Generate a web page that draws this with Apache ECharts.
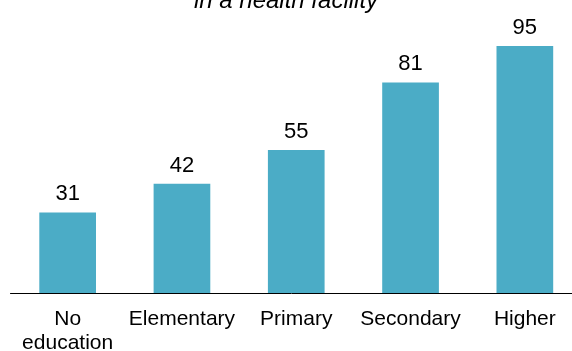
<!DOCTYPE html>
<html>
<head>
<meta charset="utf-8">
<script src="https://cdn.jsdelivr.net/npm/echarts@6/dist/echarts.min.js"></script>
<style>html,body{margin:0;padding:0;background:#fff}#c{width:572px;height:351px}</style>
</head>
<body>
<div id="c"></div>
<script>
var titleText = 'in a health facility';
var categories = ['No\neducation', 'Elementary', 'Primary', 'Secondary', 'Higher'];
var values = [31, 42, 55, 81, 95];

var chart = echarts.init(document.getElementById('c'), null, {renderer: 'canvas'});
chart.setOption({
  animation: false,
  title: {
    text: titleText,
    left: 'center',
    top: -16,
    textStyle: {fontFamily: 'Liberation Sans, Arial', fontStyle: 'italic', fontWeight: 'normal', fontSize: 24, color: '#000'}
  },
  grid: {left: 10.5, right: -10, top: 33, height: 260, containLabel: false, outerBoundsMode: 'none'},
  xAxis: {
    type: 'category',
    data: categories,
    axisLine: {lineStyle: {color: '#000', width: 1}},
    axisTick: {show: false},
    axisLabel: {color: '#000', fontFamily: 'Liberation Sans, Arial', fontSize: 21, lineHeight: 24, margin: 14, interval: 0}
  },
  yAxis: {
    type: 'value', min: 0, max: 100, show: false,
    splitLine: {show: false}
  },
  series: [{
    type: 'bar',
    data: values,
    barWidth: '49.6%',
    itemStyle: {color: '#4BACC6'},
    label: {show: true, position: 'top', distance: 7, color: '#000', fontFamily: 'Liberation Sans, Arial', fontSize: 22}
  }]
});
</script>
</body>
</html>
